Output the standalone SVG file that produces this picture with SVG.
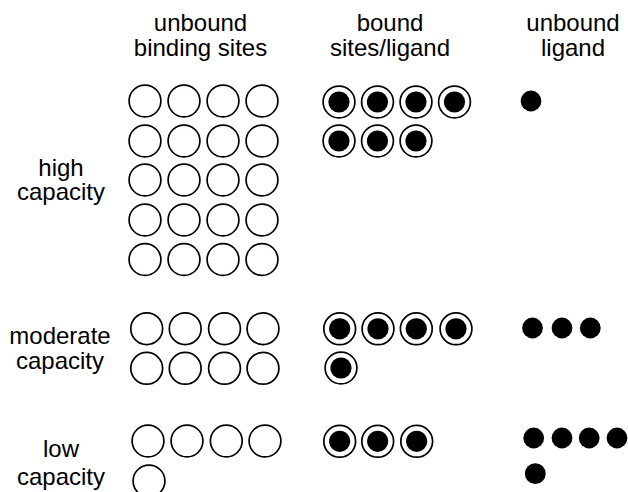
<svg xmlns="http://www.w3.org/2000/svg" xmlns:xlink="http://www.w3.org/1999/xlink" width="628" height="492" viewBox="0 0 628 492">
  <style>
    text { font-family: "Liberation Sans", Arial, sans-serif; font-size: 24px; fill: #000; text-anchor: middle; }
    .site { fill: #fff; stroke: #000; stroke-width: 1.7; }
    .lig { fill: #000; }
  </style>
  <defs>
    <!-- empty binding site -->
    <g id="site"><circle class="site" r="15.9"/></g>
    <!-- binding site occupied by ligand -->
    <g id="bound"><circle class="site" r="15.9"/><circle class="lig" r="10.6"/></g>
    <!-- free ligand -->
    <g id="ligand"><circle class="lig" r="10.4"/></g>
  </defs>
  <rect width="628" height="492" fill="#fff"/>

  <!-- column headers -->
  <g id="header-unbound-sites">
    <text x="200.5" y="31">unbound</text>
    <text x="200.5" y="55.5">binding sites</text>
  </g>
  <g id="header-bound">
    <text x="390" y="31">bound</text>
    <text x="390" y="55.5">sites/ligand</text>
  </g>
  <g id="header-unbound-ligand">
    <text x="573" y="31">unbound</text>
    <text x="573" y="55.5">ligand</text>
  </g>

  <!-- row labels -->
  <g id="label-high">
    <text x="61" y="176">high</text>
    <text x="61" y="200">capacity</text>
  </g>
  <g id="label-moderate">
    <text x="60" y="343.5">moderate</text>
    <text x="60" y="368.5">capacity</text>
  </g>
  <g id="label-low">
    <text x="61" y="456.5">low</text>
    <text x="61" y="485">capacity</text>
  </g>

  <!-- high capacity -->
  <g id="high-unbound">
    <use xlink:href="#site" x="145" y="101"/><use xlink:href="#site" x="184" y="101"/><use xlink:href="#site" x="223" y="101"/><use xlink:href="#site" x="262" y="101"/>
    <use xlink:href="#site" x="145" y="141"/><use xlink:href="#site" x="184" y="141"/><use xlink:href="#site" x="223" y="141"/><use xlink:href="#site" x="262" y="141"/>
    <use xlink:href="#site" x="145" y="180"/><use xlink:href="#site" x="184" y="180"/><use xlink:href="#site" x="223" y="180"/><use xlink:href="#site" x="262" y="180"/>
    <use xlink:href="#site" x="145" y="220"/><use xlink:href="#site" x="184" y="220"/><use xlink:href="#site" x="223" y="220"/><use xlink:href="#site" x="262" y="220"/>
    <use xlink:href="#site" x="145" y="259.5"/><use xlink:href="#site" x="184" y="259.5"/><use xlink:href="#site" x="223" y="259.5"/><use xlink:href="#site" x="262" y="259.5"/>
  </g>
  <g id="high-bound">
    <use xlink:href="#bound" x="339" y="102"/><use xlink:href="#bound" x="377.5" y="102"/><use xlink:href="#bound" x="416" y="102"/><use xlink:href="#bound" x="454.5" y="102"/>
    <use xlink:href="#bound" x="339" y="141"/><use xlink:href="#bound" x="377.5" y="141"/><use xlink:href="#bound" x="416" y="141"/>
  </g>
  <g id="high-ligand">
    <use xlink:href="#ligand" x="531" y="101"/>
  </g>

  <!-- moderate capacity -->
  <g id="moderate-unbound">
    <use xlink:href="#site" x="146.7" y="328.7"/><use xlink:href="#site" x="185.2" y="328.7"/><use xlink:href="#site" x="224.5" y="328.7"/><use xlink:href="#site" x="263" y="328.7"/>
    <use xlink:href="#site" x="146.7" y="368.3"/><use xlink:href="#site" x="185.2" y="368.3"/><use xlink:href="#site" x="224.5" y="368.3"/><use xlink:href="#site" x="263" y="368.3"/>
  </g>
  <g id="moderate-bound">
    <use xlink:href="#bound" x="339.7" y="328.8"/><use xlink:href="#bound" x="378" y="328.8"/><use xlink:href="#bound" x="416.3" y="328.8"/><use xlink:href="#bound" x="456" y="328.8"/>
    <use xlink:href="#bound" x="341" y="368"/>
  </g>
  <g id="moderate-ligand">
    <use xlink:href="#ligand" x="532.5" y="328"/><use xlink:href="#ligand" x="562" y="328"/><use xlink:href="#ligand" x="590.3" y="328"/>
  </g>

  <!-- low capacity -->
  <g id="low-unbound">
    <use xlink:href="#site" x="148" y="441"/><use xlink:href="#site" x="187" y="441"/><use xlink:href="#site" x="226.3" y="441"/><use xlink:href="#site" x="265" y="441"/>
    <use xlink:href="#site" x="149" y="481"/>
  </g>
  <g id="low-bound">
    <use xlink:href="#bound" x="339.7" y="441.3"/><use xlink:href="#bound" x="377.7" y="441.3"/><use xlink:href="#bound" x="416.7" y="441.3"/>
  </g>
  <g id="low-ligand">
    <use xlink:href="#ligand" x="533.7" y="438"/><use xlink:href="#ligand" x="562" y="438"/><use xlink:href="#ligand" x="589.2" y="438"/><use xlink:href="#ligand" x="617" y="438"/>
    <use xlink:href="#ligand" x="535.3" y="473.7"/>
  </g>
</svg>
